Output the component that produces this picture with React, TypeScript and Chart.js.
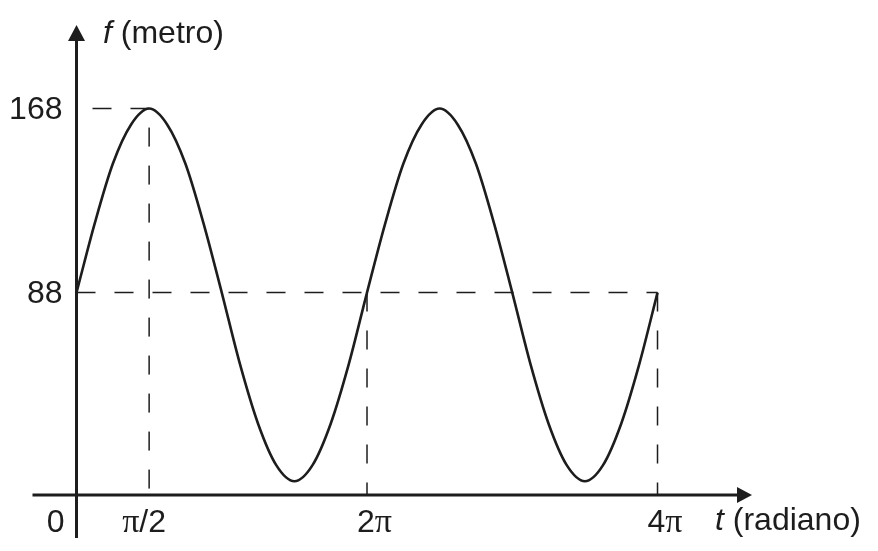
import { useRef, useEffect } from "react";
import Chart from "chart.js/auto";

// t in units of pi, read every pi/8
const T_PI = [
  0, 0.125, 0.25, 0.375, 0.5, 0.625, 0.75, 0.875, 1, 1.125, 1.25, 1.375, 1.5,
  1.625, 1.75, 1.875, 2, 2.125, 2.25, 2.375, 2.5, 2.625, 2.75, 2.875, 3, 3.125,
  3.25, 3.375, 3.5, 3.625, 3.75, 3.875, 4,
];
// f (metro)
const F_VALUES = [
  88, 118, 144, 161, 168, 161, 144, 118, 88, 57, 31, 13, 6, 13, 31, 57, 88, 118,
  144, 161, 168, 161, 144, 118, 88, 57, 31, 13, 6, 13, 31, 57, 88,
];
const Y_TICKS = [168, 88];
const Y_TICK_LABELS = ["168", "88"];
const X_TICKS = [0.5, 2, 4];
const X_TICK_LABELS = ["π/2", "2π", "4π"];

const FONT = '"Liberation Sans", Arial, sans-serif';
const SERIF = '"Liberation Serif", "Times New Roman", serif';
const INK = "#1d1d1d";

// draws a label, putting the pi glyph in a serif face like the original
const drawMixed = (ctx: CanvasRenderingContext2D, text: string, x: number, y: number) => {
  let cx = x;
  for (const ch of text) {
    ctx.font = ch === "π" ? `34px ${SERIF}` : `32px ${FONT}`;
    ctx.fillText(ch, cx, y);
    cx += ctx.measureText(ch).width;
  }
};

const axesPlugin = {
  id: "sketchAxes",
  beforeDatasetsDraw(chart: any) {
    const { ctx } = chart;
    const xs = chart.scales.x;
    const ys = chart.scales.y;
    const ox = xs.getPixelForValue(0);
    const oy = ys.getPixelForValue(0);
    const px = (v: number) => xs.getPixelForValue(v);
    const py = (v: number) => ys.getPixelForValue(v);

    ctx.save();
    ctx.strokeStyle = INK;
    ctx.lineWidth = 1.5;
    ctx.setLineDash([19, 19]);

    // horizontal guides
    ctx.beginPath();
    ctx.moveTo(ox + 16, py(168));
    ctx.lineTo(px(0.5), py(168));
    ctx.moveTo(ox, py(88));
    ctx.lineTo(px(4), py(88));
    ctx.stroke();

    // vertical guides
    ctx.lineDashOffset = 19;
    ctx.beginPath();
    ctx.moveTo(px(0.5), py(168));
    ctx.lineTo(px(0.5), oy);
    ctx.stroke();
    ctx.lineDashOffset = 0;
    ctx.beginPath();
    ctx.moveTo(px(2), py(88));
    ctx.lineTo(px(2), oy);
    ctx.moveTo(px(4), py(88));
    ctx.lineTo(px(4), oy);
    ctx.stroke();
    ctx.setLineDash([]);

    // axes
    ctx.lineWidth = 3;
    ctx.beginPath();
    ctx.moveTo(ox - 44, oy);
    ctx.lineTo(752 - 12, oy);
    ctx.moveTo(ox, oy + 43);
    ctx.lineTo(ox, 25 + 12);
    ctx.stroke();

    ctx.fillStyle = INK;
    ctx.beginPath();
    ctx.moveTo(752, oy);
    ctx.lineTo(737, oy - 8);
    ctx.lineTo(737, oy + 8);
    ctx.closePath();
    ctx.fill();
    ctx.beginPath();
    ctx.moveTo(ox, 25);
    ctx.lineTo(ox - 8.5, 41);
    ctx.lineTo(ox + 8.5, 41);
    ctx.closePath();
    ctx.fill();

    // tick labels
    ctx.font = `32px ${FONT}`;
    ctx.textBaseline = "alphabetic";
    ctx.textAlign = "right";
    Y_TICKS.forEach((v, i) => {
      ctx.fillText(Y_TICK_LABELS[i], ox - 14, py(v) + 10);
    });
    ctx.fillText("0", ox - 12, oy + 37);
    ctx.textAlign = "left";
    X_TICKS.forEach((v, i) => {
      const off = i === 0 ? -27 : -10;
      drawMixed(ctx, X_TICK_LABELS[i], px(v) + off, oy + 37);
    });

    // axis titles
    ctx.font = `italic 32px ${FONT}`;
    ctx.fillText("f", 103, 43);
    const fw = ctx.measureText("f").width;
    ctx.fillText("t", 715, oy + 35);
    const tw = ctx.measureText("t").width;
    ctx.font = `32px ${FONT}`;
    ctx.fillText(" (metro)", 103 + fw, 43);
    ctx.fillText(" (radiano)", 715 + tw, oy + 35);
    ctx.restore();
  },
};

const App = () => {
  const chartRef = useRef<HTMLCanvasElement | null>(null);
  const chartInstance = useRef<Chart | null>(null);

  useEffect(() => {
    document.body.style.margin = "0";
    if (chartInstance.current) {
      chartInstance.current.destroy();
    }
    const myChartRef = chartRef.current?.getContext("2d");
    if (myChartRef) {
      chartInstance.current = new Chart(myChartRef, {
        type: "line",
        data: {
          datasets: [
            {
              data: T_PI.map((t, i) => ({ x: t, y: F_VALUES[i] })),
              borderColor: INK,
              borderWidth: 2.6,
              pointRadius: 0,
              cubicInterpolationMode: "monotone",
              fill: false,
            },
          ],
        },
        options: {
          animation: false,
          responsive: false,
          devicePixelRatio: 1,
          layout: { padding: 0 },
          plugins: {
            legend: { display: false },
            tooltip: { enabled: false },
          },
          scales: {
            x: { type: "linear", display: false, min: -0.5267, max: 5.518 },
            y: { type: "linear", display: false, min: -24.35, max: 215.2 },
          },
        },
        plugins: [axesPlugin],
      });
    }
    return () => {
      if (chartInstance.current) {
        chartInstance.current.destroy();
      }
    };
  }, []);

  return (
    <div style={{ position: "absolute", left: 0, top: 0, width: 878, height: 551, background: "#fff" }}>
      <canvas ref={chartRef} width={878} height={551}></canvas>
    </div>
  );
};

export default App;
